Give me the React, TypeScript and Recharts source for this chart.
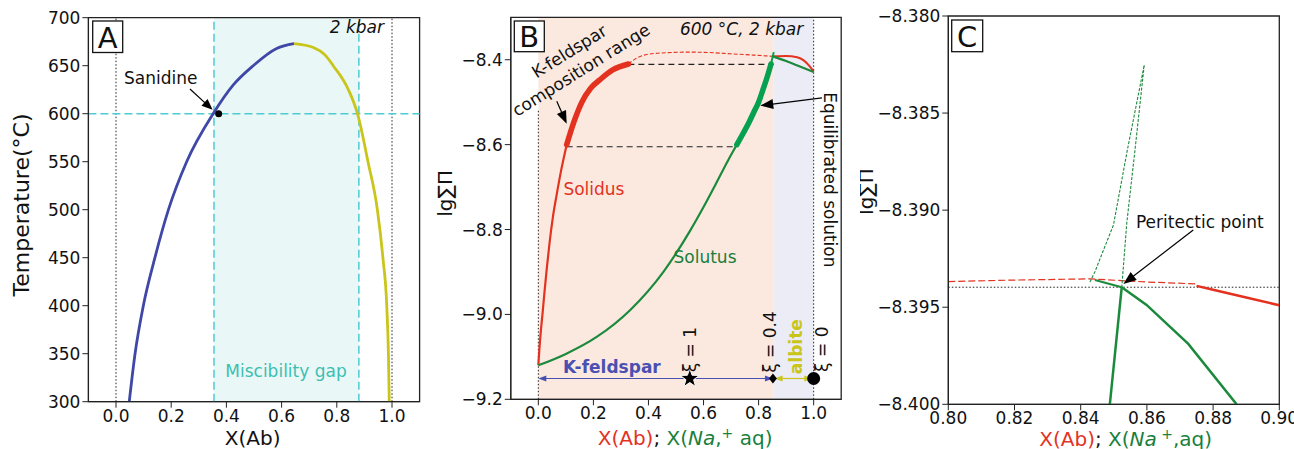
import React from "react";
import {
  ComposedChart,
  Line,
  XAxis,
  YAxis,
  ReferenceArea,
  ReferenceLine,
  ReferenceDot,
} from "recharts";

const FONT = '"DejaVu Sans", Verdana, sans-serif';
const MINUS = "\u2212";

// ---- A: T–X(Ab) solvus, 2 kbar
const sanidineX = [0.048, 0.069, 0.099, 0.141, 0.19, 0.256, 0.352, 0.425, 0.497, 0.582, 0.645];
const sanidineT = [300, 350, 400, 450, 500, 550, 600, 630, 650, 668, 673];
const albiteX = [0.645, 0.715, 0.758, 0.787, 0.842, 0.875, 0.913, 0.947, 0.967, 0.981, 0.987, 0.99];
const albiteT = [673, 669, 661, 650, 625, 600, 550, 500, 450, 400, 350, 300];
const gapBounds = [0.355, 0.88];
const isotherm = 600;
const sanidinePoint = [0.372, 600];
const tempTicks = [300, 350, 400, 450, 500, 550, 600, 650, 700];
const abTicks = [0, 0.2, 0.4, 0.6, 0.8, 1.0];

// ---- B: lg ΣΠ vs composition, 600 °C 2 kbar
const solidusX = [0, 0.004, 0.009, 0.015, 0.022, 0.031, 0.041, 0.053, 0.066, 0.083, 0.103];
const solidusV = [-9.12, -9.08, -9.04, -9.0, -8.95, -8.89, -8.83, -8.77, -8.72, -8.66, -8.6];
const kfsRangeX = [0.103, 0.13, 0.158, 0.19, 0.224, 0.27, 0.327];
const kfsRangeV = [-8.6, -8.545, -8.5, -8.467, -8.447, -8.424, -8.41];
const solidusMetaX = [0.327, 0.36, 0.4, 0.48, 0.55, 0.62, 0.7, 0.78, 0.855];
const solidusMetaV = [-8.41, -8.395, -8.387, -8.383, -8.382, -8.383, -8.386, -8.389, -8.392];
const solidusAbX = [0.855, 0.9, 0.94, 0.965, 0.985, 1.0];
const solidusAbV = [-8.392, -8.391, -8.394, -8.402, -8.415, -8.428];
const solutusX = [0, 0.1, 0.212, 0.333, 0.455, 0.552, 0.6, 0.645, 0.69, 0.721];
const solutusV = [-9.12, -9.093, -9.053, -8.99, -8.899, -8.802, -8.747, -8.692, -8.636, -8.6];
const eqSolX = [0.721, 0.745, 0.764, 0.783, 0.8, 0.815, 0.83, 0.845];
const eqSolV = [-8.6, -8.572, -8.549, -8.523, -8.5, -8.472, -8.443, -8.41];
const solutusTipX = [0.845, 0.85, 0.855];
const solutusTipV = [-8.41, -8.396, -8.382];
const solutusAbX = [0.852, 0.9, 0.95, 1.0];
const solutusAbV = [-8.392, -8.403, -8.416, -8.429];
const tieUpper = [0.327, 0.855, -8.411];
const tieLower = [0.103, 0.721, -8.605];
const xiLevel = -9.151;
const xiX = [0.55, 0.852, 1.0];
const lgTicksB = [-9.2, -9.0, -8.8, -8.6, -8.4];

// ---- C: zoom on the peritectic point
const redMetaX = [0.8, 0.82, 0.843, 0.86, 0.875];
const redMetaV = [-8.39368, -8.3936, -8.39354, -8.3937, -8.3938];
const redStableX = [0.875, 0.88, 0.89, 0.9];
const redStableV = [-8.3939, -8.3941, -8.3945, -8.3949];
const greenMetaX = [0.8428, 0.8443, 0.8499, 0.8541, 0.8592, 0.8564, 0.8539, 0.8524];
const greenMetaV = [-8.3937, -8.39317, -8.39076, -8.3869, -8.38252, -8.3869, -8.3907, -8.394];
const greenShortX = [0.8443, 0.8524];
const greenShortV = [-8.3936, -8.39397];
const greenSteepX = [0.8524, 0.8488];
const greenSteepV = [-8.39397, -8.4];
const greenAbX = [0.8524, 0.8599, 0.8725, 0.8871];
const greenAbV = [-8.39397, -8.39488, -8.39689, -8.4];
const peritecticV = -8.39397;
const cTicksX = [0.8, 0.82, 0.84, 0.86, 0.88, 0.9];
const cTicksY = [-8.4, -8.395, -8.39, -8.385, -8.38];

const BLUE = "#3f48a6";
const YELLOW = "#c9c51b";
const CYAN = "#4ccbd3";
const RED = "#e3321f";
const GREEN = "#1b8a3c";
const GREEN_BRIGHT = "#06a04e";
const LABEL_GREEN = "#1a7f3c";

const zip = (xs: number[], ys: number[]) => xs.map((x, i) => ({ x, y: ys[i] }));
const neg = (d: number) => (v: number) => (v < 0 ? MINUS : "") + Math.abs(v).toFixed(d);

const tickStyle = { fontSize: 17, fill: "#111", fontFamily: FONT };
const txt = { fontFamily: FONT, fontSize: 17, fill: "#111" };

const mark = (x: number, y: number, draw: (cx: number, cy: number) => React.ReactElement) => (
  <ReferenceDot
    x={x}
    y={y}
    r={0}
    ifOverflow="visible"
    shape={(p: any) => draw(p.cx, p.cy)}
  />
);

type ArrowOpt = { color?: string; width?: number; head?: number; headW?: number; both?: boolean };

function drawArrow(x1: number, y1: number, x2: number, y2: number, o: ArrowOpt) {
  const color = o.color ?? "#000";
  const head = o.head ?? 10;
  const hw = o.headW ?? 8;
  const dx = x2 - x1;
  const dy = y2 - y1;
  const L = Math.hypot(dx, dy) || 1;
  const ux = dx / L;
  const uy = dy / L;
  const nx = -uy;
  const ny = ux;
  const tri = (tx: number, ty: number, sx: number, sy: number) => {
    const bx = tx - sx * head;
    const by = ty - sy * head;
    return `${tx},${ty} ${bx + (nx * hw) / 2},${by + (ny * hw) / 2} ${bx - (nx * hw) / 2},${by - (ny * hw) / 2}`;
  };
  const sx = o.both ? x1 + ux * head * 0.8 : x1;
  const sy = o.both ? y1 + uy * head * 0.8 : y1;
  return (
    <g>
      <line x1={sx} y1={sy} x2={x2 - ux * head * 0.8} y2={y2 - uy * head * 0.8} stroke={color} strokeWidth={o.width ?? 1.2} />
      <polygon points={tri(x2, y2, ux, uy)} fill={color} />
      {o.both && <polygon points={tri(x1, y1, -ux, -uy)} fill={color} />}
    </g>
  );
}

const arrow = (from: number[], to: number[], o: ArrowOpt = {}) => (
  <ReferenceLine
    ifOverflow="visible"
    segment={[{ x: from[0], y: from[1] }, { x: to[0], y: to[1] }]}
    shape={(p: any) => drawArrow(p.x1, p.y1, p.x2, p.y2, o)}
  />
);

const panelBox = (cx: number, cy: number, dx: number, dy: number, w: number, h: number, letter: string) => (
  <g>
    <rect x={cx + dx} y={cy + dy} width={w} height={h} fill="#fff" stroke="#111" strokeWidth={1.3} />
    <text x={cx + dx + w / 2} y={cy + dy + h / 2 + 1} textAnchor="middle" dominantBaseline="central" {...txt} fontSize={29}>
      {letter}
    </text>
  </g>
);

const star = (cx: number, cy: number, R: number, r: number) => {
  const pts: string[] = [];
  for (let i = 0; i < 10; i++) {
    const a = -Math.PI / 2 + (i * Math.PI) / 5;
    const rad = i % 2 === 0 ? R : r;
    pts.push(`${cx + rad * Math.cos(a)},${cy + rad * Math.sin(a)}`);
  }
  return <polygon points={pts.join(" ")} fill="#000" stroke="#fff" strokeWidth={1} />;
};

const lineProps = { dot: false, activeDot: false, isAnimationActive: false, dataKey: "y" } as const;

function PanelA() {
  return (
    <ComposedChart width={430} height={449} margin={{ top: 17.7, right: 10.4, bottom: 17.3, left: 18.4 }}>
      <XAxis type="number" dataKey="x" domain={[-0.1, 1.1]} ticks={abTicks} tickFormatter={(v) => v.toFixed(1)}
        allowDataOverflow height={30} tickSize={6} tickMargin={2} tick={tickStyle} stroke="#222" />
      <YAxis type="number" domain={[300, 700]} ticks={tempTicks} allowDataOverflow width={70}
        tickSize={6} tickMargin={2} tick={tickStyle} stroke="#222" />
      <ReferenceArea x1={gapBounds[0]} x2={gapBounds[1]} y1={300} y2={700} fill="#eaf7f7" fillOpacity={1} stroke="none" />
      <ReferenceLine x={0} stroke="#222" strokeDasharray="1.5 2" strokeWidth={1} />
      <ReferenceLine x={1} stroke="#222" strokeDasharray="1.5 2" strokeWidth={1} />
      <ReferenceLine x={gapBounds[0]} stroke={CYAN} strokeDasharray="8 4" strokeWidth={1.5} />
      <ReferenceLine x={gapBounds[1]} stroke={CYAN} strokeDasharray="8 4" strokeWidth={1.5} />
      <ReferenceLine y={isotherm} stroke={CYAN} strokeDasharray="8 4" strokeWidth={1.5} />
      <Line {...lineProps} data={zip(sanidineX, sanidineT)} type="monotone" stroke={BLUE} strokeWidth={2.8} />
      <Line {...lineProps} data={zip(albiteX, albiteT)} type="monotone" stroke={YELLOW} strokeWidth={2.8} />
      <ReferenceArea x1={-0.1} x2={1.1} y1={300} y2={700} fill="none" stroke="#222" strokeWidth={1.3} ifOverflow="visible" />
      {arrow([0.268, 625.7], [0.35, 604], { head: 11, headW: 9 })}
      {mark(sanidinePoint[0], sanidinePoint[1], (cx, cy) => <circle cx={cx} cy={cy} r={3.5} fill="#000" />)}
      {mark(0.162, 631, (cx, cy) => <text x={cx} y={cy} textAnchor="middle" {...txt}>Sanidine</text>)}
      {mark(0.971, 683.75, (cx, cy) => <text x={cx} y={cy} textAnchor="end" fontStyle="italic" {...txt}>2 kbar</text>)}
      {mark(0.616, 326, (cx, cy) => <text x={cx} y={cy} textAnchor="middle" {...txt} fill="#3cbfb2">Miscibility gap</text>)}
      {mark(-0.1, 700, (cx, cy) => panelBox(cx, cy, 4.3, 3.3, 30, 31.5, "A"))}
      {mark(0.495, 300, (cx, cy) => <text x={cx} y={cy + 43} textAnchor="middle" {...txt} fontSize={20}>X(Ab)</text>)}
      {mark(-0.1, 504.9, (cx, cy) => (
        <text x={cx - 67} y={cy} transform={`rotate(-90 ${cx - 67} ${cy})`} textAnchor="middle" dominantBaseline="central" {...txt} fontSize={22}>
          Temperature(°C)
        </text>
      ))}
    </ComposedChart>
  );
}

function PanelB() {
  return (
    <ComposedChart width={430} height={449} margin={{ top: 17.3, right: 18.8, bottom: 19.7, left: 10.8 }}>
      <XAxis type="number" dataKey="x" domain={[-0.1, 1.1]} ticks={abTicks} tickFormatter={(v) => v.toFixed(1)}
        allowDataOverflow height={30} tickSize={6} tickMargin={2} tick={tickStyle} stroke="#222" />
      <YAxis type="number" domain={[-9.2, -8.3]} ticks={lgTicksB} tickFormatter={neg(1)} allowDataOverflow width={70}
        tickSize={6} tickMargin={2} tick={tickStyle} stroke="#222" />
      <ReferenceArea x1={0} x2={0.855} y1={-9.2} y2={-8.3} fill="#fbe9e0" fillOpacity={1} stroke="none" />
      <ReferenceArea x1={0.855} x2={1.0} y1={-9.2} y2={-8.3} fill="#ececf6" fillOpacity={1} stroke="none" />
      <ReferenceLine segment={[{ x: 0, y: -9.2 }, { x: 0, y: -8.52 }]} stroke="#222" strokeDasharray="1.5 2" strokeWidth={1} />
      <ReferenceLine x={1} stroke="#222" strokeDasharray="1.5 2" strokeWidth={1} />
      <ReferenceLine segment={[{ x: tieUpper[0], y: tieUpper[2] }, { x: tieUpper[1], y: tieUpper[2] }]} stroke="#222" strokeDasharray="6 4" strokeWidth={1.2} />
      <ReferenceLine segment={[{ x: tieLower[0], y: tieLower[2] }, { x: tieLower[1], y: tieLower[2] }]} stroke="#222" strokeDasharray="6 4" strokeWidth={1.2} />
      <Line {...lineProps} data={zip(solidusX, solidusV)} type="monotone" stroke={RED} strokeWidth={2.2} />
      <Line {...lineProps} data={zip(kfsRangeX, kfsRangeV)} type="monotone" stroke={RED} strokeWidth={5.5} strokeLinecap="round" />
      <Line {...lineProps} data={zip(solidusMetaX, solidusMetaV)} type="monotone" stroke={RED} strokeWidth={1.1} strokeDasharray="4 2" />
      <Line {...lineProps} data={zip(solidusAbX, solidusAbV)} type="monotone" stroke={RED} strokeWidth={2} />
      <Line {...lineProps} data={zip(solutusX, solutusV)} type="monotone" stroke={GREEN} strokeWidth={2.2} />
      <Line {...lineProps} data={zip(eqSolX, eqSolV)} type="monotone" stroke={GREEN_BRIGHT} strokeWidth={5.5} strokeLinecap="round" />
      <Line {...lineProps} data={zip(solutusTipX, solutusTipV)} type="linear" stroke={GREEN_BRIGHT} strokeWidth={2} />
      <Line {...lineProps} data={zip(solutusAbX, solutusAbV)} type="monotone" stroke={GREEN} strokeWidth={2.2} />
      <ReferenceArea x1={-0.1} x2={1.1} y1={-9.2} y2={-8.3} fill="none" stroke="#222" strokeWidth={1.3} ifOverflow="visible" />
      {arrow([0.0, xiLevel], [0.852, xiLevel], { color: "#4a50b0", both: true, head: 8, headW: 6, width: 1 })}
      {arrow([0.858, xiLevel], [0.995, xiLevel], { color: YELLOW, both: true, head: 8, headW: 6, width: 1.2 })}
      {mark(xiX[0], xiLevel, (cx, cy) => star(cx, cy, 10, 4))}
      {mark(xiX[1], xiLevel, (cx, cy) => <polygon points={`${cx},${cy - 5} ${cx + 4},${cy} ${cx},${cy + 5} ${cx - 4},${cy}`} fill="#000" />)}
      {mark(xiX[2], xiLevel, (cx, cy) => <circle cx={cx} cy={cy} r={6.5} fill="#000" />)}
      {arrow([0.067, -8.498], [0.103, -8.551], { head: 13, headW: 10 })}
      {arrow([1.03, -8.49], [0.806, -8.508], { head: 13, headW: 10 })}
      {mark(0.1335, -8.402, (cx, cy) => (
        <text transform={`rotate(-32 ${cx} ${cy})`} textAnchor="middle" dominantBaseline="central" {...txt}>
          <tspan x={cx} y={cy - 11}>K-feldspar</tspan>
          <tspan x={cx} y={cy + 11}>composition range</tspan>
        </text>
      ))}
      {mark(0.091, -8.718, (cx, cy) => <text x={cx} y={cy} {...txt} fill={RED}>Solidus</text>)}
      {mark(0.491, -8.879, (cx, cy) => <text x={cx} y={cy} {...txt} fill={LABEL_GREEN}>Solutus</text>)}
      {mark(1.061, -8.683, (cx, cy) => (
        <text x={cx} y={cy} transform={`rotate(90 ${cx} ${cy})`} textAnchor="middle" dominantBaseline="central" {...txt}>
          Equilibrated solution
        </text>
      ))}
      {mark(0.962, -8.341, (cx, cy) => <text x={cx} y={cy} textAnchor="end" fontStyle="italic" {...txt}>600 °C, 2 kbar</text>)}
      {mark(0.267, -9.137, (cx, cy) => <text x={cx} y={cy} textAnchor="middle" {...txt} fontWeight="bold" fill="#4a50b0">K-feldspar</text>)}
      {mark(0.937, -9.076, (cx, cy) => (
        <text x={cx} y={cy} transform={`rotate(-90 ${cx} ${cy})`} textAnchor="middle" dominantBaseline="central" {...txt} fontWeight="bold" fill={YELLOW}>
          albite
        </text>
      ))}
      {mark(0.551, -9.083, (cx, cy) => (
        <text x={cx} y={cy} transform={`rotate(-90 ${cx} ${cy})`} textAnchor="middle" dominantBaseline="central" {...txt}>ξ = 1</text>
      ))}
      {mark(0.842, -9.065, (cx, cy) => (
        <text x={cx} y={cy} transform={`rotate(-90 ${cx} ${cy})`} textAnchor="middle" dominantBaseline="central" {...txt}>ξ = 0.4</text>
      ))}
      {mark(1.031, -9.082, (cx, cy) => (
        <text x={cx} y={cy} transform={`rotate(-90 ${cx} ${cy})`} textAnchor="middle" dominantBaseline="central" {...txt}>ξ = 0</text>
      ))}
      {mark(-0.1, -8.3, (cx, cy) => panelBox(cx, cy, 3.5, 3.7, 30, 30.7, "B"))}
      {mark(0.533, -9.2, (cx, cy) => (
        <text x={cx} y={cy + 45.5} textAnchor="middle" style={{ whiteSpace: "pre" }} {...txt} fontSize={20}>
          <tspan fill={RED}>X(Ab)</tspan>
          <tspan fill="#111">; </tspan>
          <tspan fill={LABEL_GREEN}>X(</tspan>
          <tspan fill={LABEL_GREEN} fontStyle="italic">Na</tspan>
          <tspan fill={LABEL_GREEN}>,</tspan>
          <tspan fill={LABEL_GREEN} fontSize={14} dy={-7}>+</tspan>
          <tspan fill={LABEL_GREEN} dy={7}> aq)</tspan>
        </text>
      ))}
      {mark(-0.1, -8.715, (cx, cy) => (
        <text x={cx - 65.8} y={cy} transform={`rotate(-90 ${cx - 65.8} ${cy})`} textAnchor="middle" dominantBaseline="central" {...txt} fontSize={20}>
          lg∑Π
        </text>
      ))}
    </ComposedChart>
  );
}

function PanelC() {
  return (
    <ComposedChart width={434} height={449} margin={{ top: 16, right: 14.7, bottom: 14.7, left: 18.3 }}>
      <XAxis type="number" dataKey="x" domain={[0.8, 0.9]} ticks={cTicksX} tickFormatter={(v) => v.toFixed(2)}
        allowDataOverflow height={30} tickSize={6} tickMargin={2} tick={tickStyle} stroke="#222" />
      <YAxis type="number" domain={[-8.4, -8.38]} ticks={cTicksY} tickFormatter={neg(3)} allowDataOverflow width={70}
        tickSize={6} tickMargin={2} tick={tickStyle} stroke="#222" />
      <ReferenceLine y={peritecticV} stroke="#222" strokeDasharray="1.5 2" strokeWidth={1} />
      <Line {...lineProps} data={zip(redMetaX, redMetaV)} type="linear" stroke={RED} strokeWidth={1.2} strokeDasharray="7 3" />
      <Line {...lineProps} data={zip(redStableX, redStableV)} type="linear" stroke={RED} strokeWidth={2.5} />
      <Line {...lineProps} data={zip(greenMetaX, greenMetaV)} type="linear" stroke={GREEN} strokeWidth={1.1} strokeDasharray="3 1.5" />
      <Line {...lineProps} data={zip(greenShortX, greenShortV)} type="linear" stroke={GREEN} strokeWidth={2} />
      <Line {...lineProps} data={zip(greenSteepX, greenSteepV)} type="linear" stroke={GREEN} strokeWidth={2.5} />
      <Line {...lineProps} data={zip(greenAbX, greenAbV)} type="linear" stroke={GREEN} strokeWidth={2.5} />
      <ReferenceArea x1={0.8} x2={0.9} y1={-8.4} y2={-8.38} fill="none" stroke="#222" strokeWidth={1.3} ifOverflow="visible" />
      {arrow([0.874, -8.39102], [0.8529, -8.3938], { head: 13, headW: 10 })}
      {mark(0.876, -8.39094, (cx, cy) => <text x={cx} y={cy} textAnchor="middle" {...txt}>Peritectic point</text>)}
      {mark(0.8, -8.38, (cx, cy) => panelBox(cx, cy, 3.4, 4, 31, 31.7, "C"))}
      {mark(0.8536, -8.4, (cx, cy) => (
        <text x={cx} y={cy + 41.5} textAnchor="middle" style={{ whiteSpace: "pre" }} {...txt} fontSize={20}>
          <tspan fill={RED}>X(Ab)</tspan>
          <tspan fill="#111">; </tspan>
          <tspan fill={LABEL_GREEN}>X(</tspan>
          <tspan fill={LABEL_GREEN} fontStyle="italic">Na</tspan>
          <tspan fill={LABEL_GREEN} fontSize={14} dy={-7}> +</tspan>
          <tspan fill={LABEL_GREEN} dy={7}>,aq)</tspan>
        </text>
      ))}
      {mark(0.8, -8.38904, (cx, cy) => (
        <text x={cx - 82.3} y={cy} transform={`rotate(-90 ${cx - 82.3} ${cy})`} textAnchor="middle" dominantBaseline="central" {...txt} fontSize={20}>
          lg∑Π
        </text>
      ))}
    </ComposedChart>
  );
}

export default function App() {
  return (
    <div style={{ position: "absolute", left: 0, top: 0, width: 1294, height: 449, background: "#fff" }}>
      <div style={{ position: "absolute", left: 0, top: 0 }}>
        <PanelA />
      </div>
      <div style={{ position: "absolute", left: 430, top: 0 }}>
        <PanelB />
      </div>
      <div style={{ position: "absolute", left: 860, top: 0 }}>
        <PanelC />
      </div>
    </div>
  );
}
